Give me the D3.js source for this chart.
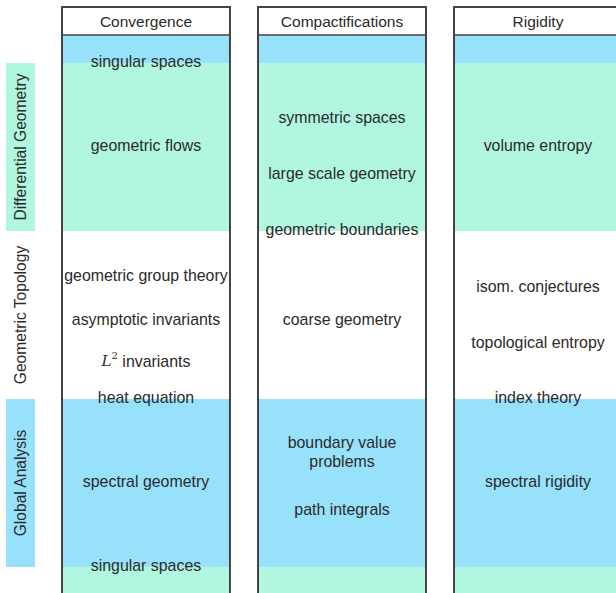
<!DOCTYPE html>
<html>
<head>
<meta charset="utf-8">
<script src="https://cdn.jsdelivr.net/npm/d3@7"></script>
<style>
html,body{margin:0;padding:0;background:#fff;}
svg{display:block;}
</style>
</head>
<body>
<script>
// ---- data ----
const columns = ["Convergence", "Compactifications", "Rigidity"];
// horizontal bands in row units: [start, end, kind]
const bandStarts = [1, 2, 8, 14, 20];
const bandEnds   = [2, 8, 14, 20, 21];
const bandKinds  = ["blue", "green", "white", "blue", "green"];
// side labels
const sideLabels = ["Differential Geometry", "Geometric Topology", "Global Analysis"];
const sideStarts = [2, 8, 14];
const sideEnds   = [8, 14, 20];
const sideKinds  = ["green", "white", "blue"];
// topics: column index, row position, text lines
const topicCols = [0,0,0,0,0,0,0,0, 1,1,1,1,1,1, 2,2,2,2,2];
const topicRows = [1.96,4.96,9.6,11.15,12.65,13.96,16.96,19.96, 3.96,5.96,7.96,11.15,15.9,17.96, 4.96,9.98,11.98,13.96,16.96];
const topicText = [
  ["singular spaces"],["geometric flows"],["geometric group theory"],["asymptotic invariants"],["L2 invariants"],["heat equation"],["spectral geometry"],["singular spaces"],
  ["symmetric spaces"],["large scale geometry"],["geometric boundaries"],["coarse geometry"],["boundary value","problems"],["path integrals"],
  ["volume entropy"],["isom. conjectures"],["topological entropy"],["index theory"],["spectral rigidity"]
];

const W = 616, H = 593;
const colors = {blue: "#97e1fb", green: "#b1f7e0", white: "#ffffff"};

const svg = d3.select("body").append("svg").attr("width", W).attr("height", H);

const y = d3.scaleLinear().domain([0, 21]).range([7, 595]);
const x = d3.scaleBand().domain(columns).range([62, 622]).paddingInner(0.143).paddingOuter(0);

const font = "'Liberation Sans', Arial, sans-serif";
const textColor = "#2a2a2a";
const strokeColor = "#444";

// column groups
const cols = svg.selectAll("g.col").data(columns).enter().append("g").attr("class", "col");

cols.each(function(c) {
  const g = d3.select(this);
  const x0 = x(c), bw = x.bandwidth();
  bandStarts.forEach((s, i) => {
    g.append("rect")
      .attr("x", x0).attr("y", y(s))
      .attr("width", bw).attr("height", y(bandEnds[i]) - y(s))
      .attr("fill", colors[bandKinds[i]]);
  });
  g.append("rect").attr("x", x0).attr("y", y(0)).attr("width", bw).attr("height", y(1) - y(0)).attr("fill", "#fff");
  g.append("text")
    .attr("x", x0 + bw / 2).attr("y", (y(0) + y(1)) / 2)
    .attr("text-anchor", "middle").attr("dominant-baseline", "central")
    .attr("font-family", font).attr("font-size", 15.5).attr("fill", textColor)
    .text(c);
  g.append("line").attr("x1", x0).attr("x2", x0 + bw).attr("y1", y(1)).attr("y2", y(1))
    .attr("stroke", strokeColor).attr("stroke-width", 1.5);
  g.append("path")
    .attr("d", `M${x0},${H + 2}V${y(0)}H${x0 + bw}V${H + 2}`)
    .attr("fill", "none").attr("stroke", strokeColor).attr("stroke-width", 2);
});

// topics
topicText.forEach((lines, i) => {
  const c = columns[topicCols[i]];
  const cx = x(c) + x.bandwidth() / 2;
  const cy = y(topicRows[i]);
  const lh = 19;
  lines.forEach((ln, j) => {
    const ty = cy + (j - (lines.length - 1) / 2) * lh;
    const t = svg.append("text")
      .attr("x", cx).attr("y", ty)
      .attr("text-anchor", "middle").attr("dominant-baseline", "central")
      .attr("font-family", font).attr("font-size", 15.9).attr("fill", textColor);
    if (ln.startsWith("L2")) {
      t.append("tspan").attr("font-family", "'DejaVu Serif', 'Liberation Serif', serif").attr("font-style", "italic").attr("font-size", 15).text("L");
      t.append("tspan").attr("font-family", "'DejaVu Serif', 'Liberation Serif', serif").attr("font-size", 10).attr("dy", -6).text("2");
      t.append("tspan").attr("dy", 6).text(ln.slice(2));
    } else {
      t.text(ln);
    }
  });
});

// side labels
sideLabels.forEach((lab, i) => {
  const y0 = y(sideStarts[i]), y1 = y(sideEnds[i]);
  svg.append("rect").attr("x", 6).attr("y", y0).attr("width", 29).attr("height", y1 - y0)
    .attr("fill", colors[sideKinds[i]]);
  const cy = (y0 + y1) / 2;
  svg.append("text")
    .attr("transform", `translate(20.5,${cy}) rotate(-90)`)
    .attr("text-anchor", "middle").attr("dominant-baseline", "central")
    .attr("font-family", font).attr("font-size", 15.6).attr("fill", textColor)
    .text(lab);
});
</script>
</body>
</html>
